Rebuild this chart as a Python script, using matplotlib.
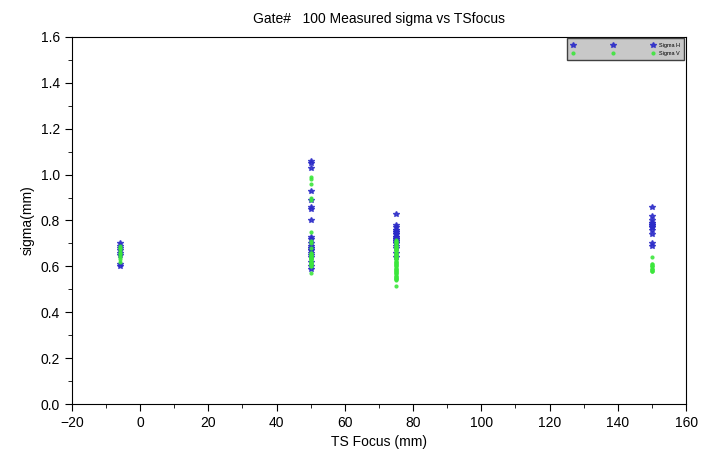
import matplotlib.pyplot as plt
from matplotlib.ticker import MultipleLocator

plt.rcParams['font.family'] = ['Liberation Sans Narrow', 'Liberation Sans', 'DejaVu Sans']

# TS focus positions (mm) and measured sigmas (mm)
focus_h = ([-6] * 8 + [50] * 22 + [75] * 24 + [150] * 14)
sigma_h = [0.70, 0.69, 0.68, 0.67, 0.66, 0.65, 0.61, 0.60,
           1.06, 1.05, 1.03, 0.93, 0.89, 0.86, 0.85, 0.80, 0.73, 0.72,
           0.70, 0.69, 0.68, 0.68, 0.67, 0.67, 0.66, 0.65, 0.64, 0.62, 0.60, 0.59,
           0.83, 0.78, 0.77, 0.76, 0.76, 0.75, 0.75, 0.74, 0.74, 0.73, 0.73, 0.73,
           0.72, 0.72, 0.72, 0.71, 0.71, 0.71, 0.70, 0.70, 0.69, 0.68, 0.66, 0.64,
           0.86, 0.82, 0.80, 0.79, 0.79, 0.78, 0.78, 0.78, 0.77, 0.77, 0.76, 0.74,
           0.70, 0.69]

focus_v = ([-6] * 10 + [50] * 30 + [75] * 54 + [150] * 12)
sigma_v = [0.69, 0.68, 0.68, 0.67, 0.66, 0.66, 0.65, 0.64, 0.63, 0.62,
           0.99, 0.98, 0.96, 0.90, 0.89, 0.75, 0.71, 0.70, 0.68, 0.66,
           0.66, 0.65, 0.65, 0.65, 0.64, 0.64, 0.64, 0.63, 0.63, 0.63,
           0.63, 0.62, 0.62, 0.62, 0.61, 0.61, 0.61, 0.60, 0.60, 0.57,
           0.715, 0.71, 0.705, 0.70, 0.695, 0.69, 0.685, 0.68, 0.675, 0.67,
           0.665, 0.66, 0.655, 0.65, 0.645, 0.64, 0.635, 0.63, 0.625, 0.62,
           0.615, 0.61, 0.605, 0.60, 0.595, 0.59, 0.585, 0.58, 0.575, 0.57,
           0.565, 0.56, 0.555, 0.55, 0.545, 0.54, 0.70, 0.68, 0.66, 0.64,
           0.62, 0.60, 0.58, 0.56, 0.69, 0.67, 0.65, 0.63, 0.61, 0.59,
           0.57, 0.55, 0.545, 0.515,
           0.64, 0.61, 0.61, 0.60, 0.60, 0.60, 0.59, 0.59, 0.59, 0.58,
           0.58, 0.58]

fig = plt.figure(figsize=(7.11, 4.49), dpi=100)
ax = fig.add_axes([0.101, 0.100, 0.864, 0.818])

ax.plot(focus_h, sigma_h, linestyle='none', marker='*', markersize=4,
        color='#2b2bc8', alpha=0.85, label='Sigma H')
ax.plot(focus_v, sigma_v, linestyle='none', marker='o', markersize=3,
        markeredgewidth=0, color='#3ce63c', alpha=0.9, label='Sigma V')

ax.set_xlim(-20, 160)
ax.set_ylim(0, 1.6)
ax.xaxis.set_major_locator(MultipleLocator(20))
ax.xaxis.set_minor_locator(MultipleLocator(10))
ax.yaxis.set_major_locator(MultipleLocator(0.2))
ax.yaxis.set_minor_locator(MultipleLocator(0.1))
ax.yaxis.set_major_formatter(plt.FormatStrFormatter('%.1f'))
ax.tick_params(which='both', direction='out', top=False, right=False, labelsize=10)
ax.tick_params(which='major', length=5)
ax.tick_params(which='minor', length=3)

ax.set_xlabel('TS Focus (mm)', fontsize=10)
ax.set_ylabel('sigma(mm)', fontsize=10)
ax.set_title('Gate#   100 Measured sigma vs TSfocus', fontsize=10, pad=10)

leg = ax.legend(loc='upper right', numpoints=3, fontsize=4, frameon=True,
                fancybox=False, borderaxespad=0.3, handlelength=15,
                borderpad=0.8, markerscale=1.0)
leg.get_frame().set_facecolor('#c8c8c8')
leg.get_frame().set_edgecolor('#404040')
leg.get_frame().set_alpha(1)

fig.savefig('out.png', dpi=100)
